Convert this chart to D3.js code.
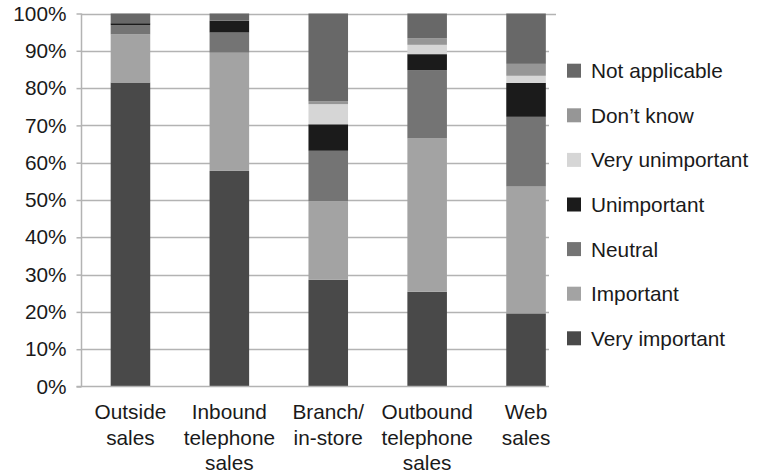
<!DOCTYPE html>
<html>
<head>
<meta charset="utf-8">
<script src="https://cdn.jsdelivr.net/npm/d3@7"></script>
<style>
  html, body { margin: 0; padding: 0; background: #ffffff; }
  svg { display: block; font-family: "Liberation Sans", Arial, Helvetica, sans-serif; }
</style>
</head>
<body>
<svg id="chart" width="762" height="473"></svg>
<script>
// Sales channels (x-axis categories), each label split into display lines
const categories = ["Outside sales", "Inbound telephone sales", "Branch/ in-store", "Outbound telephone sales", "Web sales"];
const categoryLines = [["Outside", "sales"], ["Inbound", "telephone", "sales"], ["Branch/", "in-store"], ["Outbound", "telephone", "sales"], ["Web", "sales"]];

// Response shares (%) per channel, stacked bottom to top
const veryImportant   = [81.5, 57.8, 28.6, 25.4, 19.6];
const important       = [12.9, 31.7, 21.1, 41.1, 34.0];
const neutral         = [2.5, 5.4, 13.5, 18.3, 18.7];
const unimportant     = [0.5, 3.2, 7.1, 4.3, 9.1];
const veryUnimportant = [0.0, 0.0, 5.4, 2.5, 1.9];
const dontKnow        = [0.0, 0.0, 0.8, 1.8, 3.2];
const notApplicable   = [2.6, 1.9, 23.5, 6.6, 13.5];

const seriesNames = ["Very important", "Important", "Neutral", "Unimportant", "Very unimportant", "Don\u2019t know", "Not applicable"];
const seriesValues = [veryImportant, important, neutral, unimportant, veryUnimportant, dontKnow, notApplicable];
const seriesColors = ["#494949", "#a3a3a3", "#747474", "#1b1b1b", "#d6d6d6", "#969696", "#686868"];

const yTicks = [0, 10, 20, 30, 40, 50, 60, 70, 80, 90, 100];

// Build rows for d3.stack
const rows = categories.map((c, i) => {
  const r = { category: c };
  seriesNames.forEach((s, k) => { r[s] = seriesValues[k][i]; });
  return r;
});
const stacked = d3.stack().keys(seriesNames)(rows);

const svg = d3.select("#chart");
const textColor = "#1a1a1a";
const gridColor = "#b3b3b3";
const fontSize = 20.8;

const x = d3.scaleBand()
  .domain(categories)
  .range([81, 575.5])
  .paddingInner(0.6)
  .paddingOuter(0.3);

const y = d3.scaleLinear().domain([0, 100]).range([386.5, 13.5]);

const gridRight = 549;

// Horizontal gridlines
svg.append("g").selectAll("line")
  .data(yTicks.filter(t => t > 0))
  .join("line")
  .attr("x1", 81.5)
  .attr("x2", t => t === 100 ? 556 : gridRight)
  .attr("y1", t => Math.round(y(t)) + 0.5)
  .attr("y2", t => Math.round(y(t)) + 0.5)
  .attr("stroke", gridColor)
  .attr("stroke-width", 1.5);

// Stacked bars
svg.append("g").selectAll("g")
  .data(stacked)
  .join("g")
  .attr("fill", (d, i) => seriesColors[i])
  .selectAll("rect")
  .data(d => d)
  .join("rect")
  .attr("x", d => x(d.data.category))
  .attr("width", x.bandwidth())
  .attr("y", d => y(d[1]))
  .attr("height", d => Math.max(0, y(d[0]) - y(d[1])));

// Y axis
const yAxis = d3.axisLeft(y)
  .tickValues(yTicks)
  .tickFormat(d => d + "%")
  .tickSize(5)
  .tickPadding(10);

const gy = svg.append("g")
  .attr("transform", "translate(81.5,0)")
  .call(yAxis);
gy.select(".domain").attr("stroke", gridColor).attr("stroke-width", 1.5).attr("d", `M0,${y(100)}V${y(0)}`);
gy.selectAll(".tick line").attr("stroke", gridColor).attr("stroke-width", 1.5);
gy.selectAll(".tick text")
  .attr("fill", textColor)
  .style("font-size", fontSize + "px")
  .style("font-family", "'Liberation Sans', Arial, sans-serif");

// X baseline
svg.append("line")
  .attr("x1", 76.5).attr("x2", gridRight)
  .attr("y1", y(0)).attr("y2", y(0))
  .attr("stroke", gridColor).attr("stroke-width", 1.5);

// X category labels
const xl = svg.append("g").selectAll("text")
  .data(categories)
  .join("text")
  .attr("text-anchor", "middle")
  .attr("fill", textColor)
  .style("font-size", fontSize + "px");
xl.each(function (c, i) {
  const cx = x(c) + x.bandwidth() / 2;
  d3.select(this).selectAll("tspan")
    .data(categoryLines[i])
    .join("tspan")
    .attr("x", cx)
    .attr("y", (d, j) => 419 + j * 25.5)
    .text(d => d);
});

// Legend, top entry is the last stacked series
const legendOrder = seriesNames.map((s, i) => i).reverse();
const legend = svg.append("g").selectAll("g")
  .data(legendOrder)
  .join("g")
  .attr("transform", (d, j) => `translate(567,${70.7 + j * 44.6})`);
legend.append("rect")
  .attr("x", 0).attr("y", -7)
  .attr("width", 14).attr("height", 14)
  .attr("fill", i => seriesColors[i]);
legend.append("text")
  .attr("x", 24).attr("y", 7.5)
  .attr("fill", textColor)
  .style("font-size", fontSize + "px")
  .text(i => seriesNames[i]);
</script>
</body>
</html>
